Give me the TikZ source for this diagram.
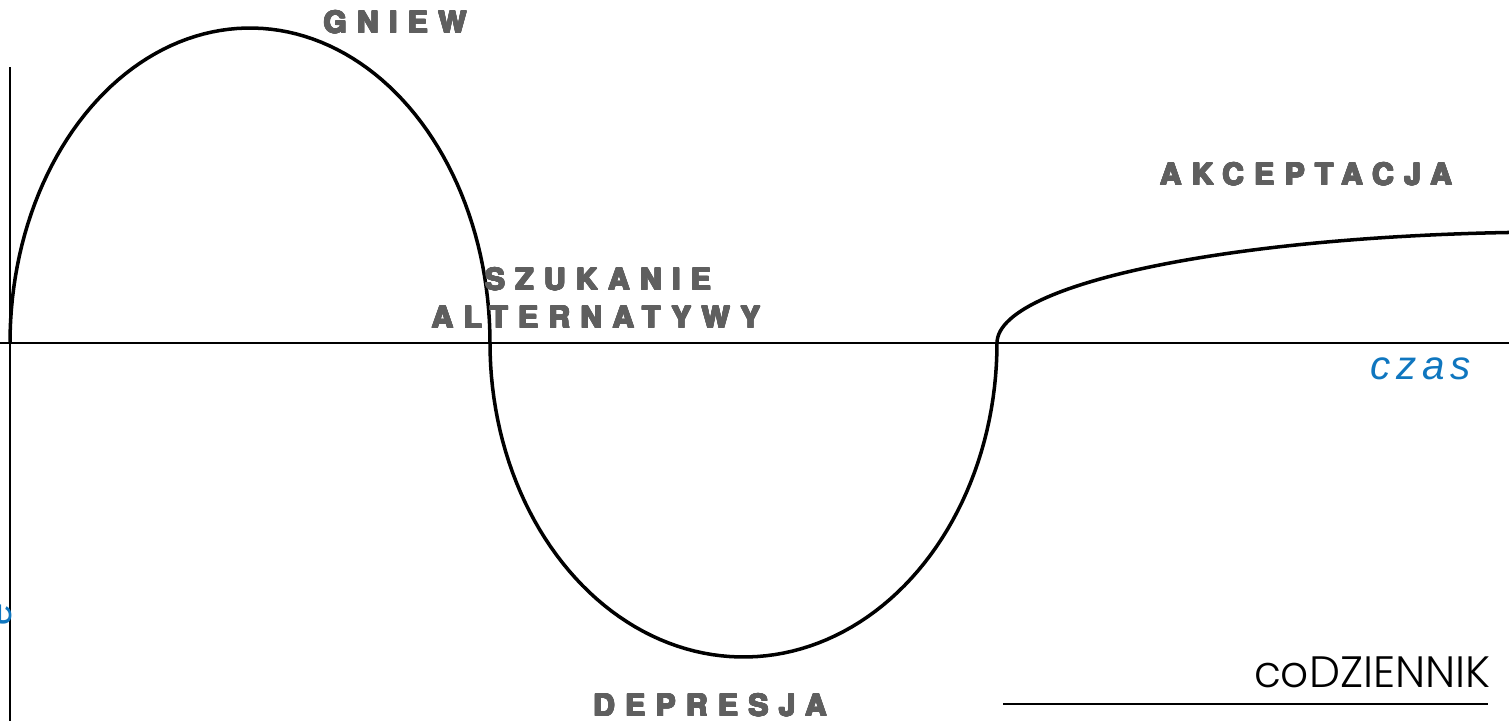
\documentclass[tikz,border=0pt]{standalone}
\usepackage{fontspec}
\usepackage{contour}
\usetikzlibrary{positioning}
\setmainfont{Liberation Sans}
\newfontfamily\stagefont{texgyreheros-bold.otf}[LetterSpace=35]
\newfontfamily\timefont{Liberation Sans}[LetterSpace=14]
\newfontfamily\logofont{Poppins}[UprightFont=* Light]
\definecolor{stagegray}{HTML}{5F5F5F}
\definecolor{timeblue}{HTML}{0F76BF}
\contournumber{16}
\contourlength{0.45pt}
\newcommand{\stagename}[1]{\contour{stagegray}{#1}}

\begin{document}
\begin{tikzpicture}[x=0.02cm,y=-0.02cm,
  stage/.style={font=\stagefont\fontsize{17}{20}\selectfont,text=stagegray,anchor=base,inner sep=0pt},
  timelabel/.style={font=\timefont\itshape\fontsize{23}{26}\selectfont,text=timeblue,anchor=base,inner sep=0pt},
  axis/.style={line width=1.3pt},
  wave/.style={line width=2pt,line join=round}]
\useasboundingbox (0,0) rectangle (1509,721);
% axes: time to the right, feeling up and down
\coordinate (xstart) at (0,343);
\coordinate (xend) at (1509,343);
\coordinate (ytop) at (10,67);
\coordinate (ybot) at (10,721);
\draw[axis] (xstart) -- (xend);
\draw[axis] (ytop) -- (ybot);
% the wave: up, down, then levelling off
\draw[wave] plot[domain=0:180,samples=90] ({250-240*cos(\x)},{343-315*sin(\x)})
  -- plot[domain=0:180,samples=90] ({743.5-253.5*cos(\x)},{343+314*sin(\x)})
  -- plot[domain=0:90,samples=60] ({1560-563*cos(\x)},{343-111*sin(\x)});
% stages
\node[stage] (gniew) at (395,33) {\stagename{GNIEW}};
\node[stage] (szukanie) at (598,290) {\stagename{SZUKANIE}};
\node[stage] (alternatywy) at (596,328) {\stagename{ALTERNATYWY}};
\node[stage] (akceptacja) at (1306,185) {\stagename{AKCEPTACJA}};
\node[stage] (depresja) at (710,716) {\stagename{DEPRESJA}};
\node[timelabel] (czas) at (1421,379) {czas};
\node[timelabel,rotate=90] (feeling) at (11,614) {e};
% logo
\node[font=\logofont\fontsize{25}{30}\selectfont,anchor=base east,inner sep=0pt] (logo) at (1491,687) {coDZIENNIK};
\coordinate (lineleft) at (1003,704);
\coordinate (lineright) at (1488,704);
\draw[line width=1.3pt] (lineleft) -- (lineright);
\end{tikzpicture}
\end{document}
